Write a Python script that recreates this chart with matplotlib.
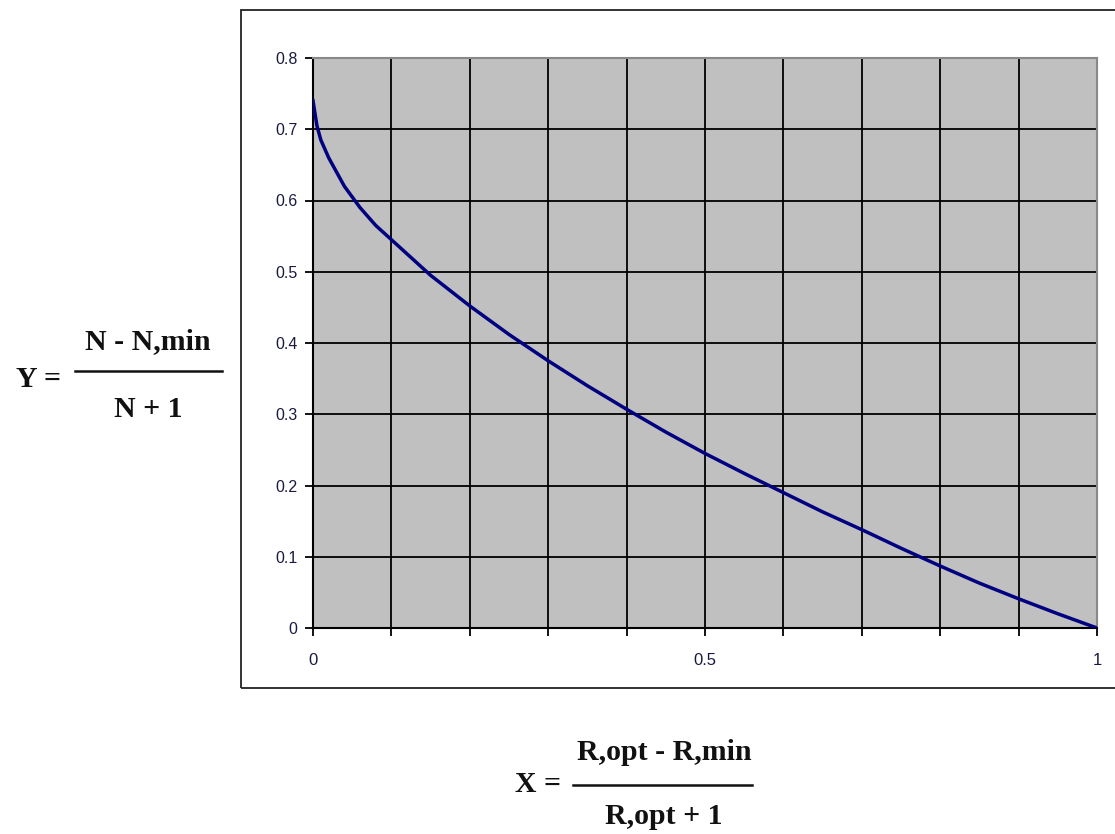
import matplotlib

matplotlib.use("Agg")
import matplotlib.pyplot as plt
from matplotlib.patches import Rectangle
from matplotlib.lines import Line2D

# Curva (correlação de Gilliland)
x_vals = [0.0, 0.005, 0.01, 0.02, 0.04, 0.06, 0.08, 0.1, 0.15, 0.2, 0.25, 0.3,
          0.35, 0.4, 0.45, 0.5, 0.55, 0.6, 0.65, 0.7, 0.75, 0.8, 0.85, 0.9,
          0.95, 1.0]
y_vals = [0.74, 0.705, 0.685, 0.66, 0.62, 0.59, 0.565, 0.545, 0.495, 0.452,
          0.412, 0.375, 0.34, 0.307, 0.275, 0.245, 0.217, 0.19, 0.163, 0.138,
          0.112, 0.087, 0.063, 0.041, 0.02, 0.0]

x_ticks = [i / 10 for i in range(11)]
x_labels = ["0", "", "", "", "", "0.5", "", "", "", "", "1"]
y_ticks = [i / 10 for i in range(9)]
y_labels = ["0", "0.1", "0.2", "0.3", "0.4", "0.5", "0.6", "0.7", "0.8"]

W, H = 1115, 834
fig = plt.figure(figsize=(W / 100, H / 100), dpi=100)

# moldura externa da área do gráfico
fig.patches.append(Rectangle((241 / W, 1 - 688 / H), 900 / W, 678 / H,
                             transform=fig.transFigure, fill=False,
                             edgecolor="#222222", linewidth=1.3, clip_on=False))

ax = fig.add_axes([313 / W, 1 - 628 / H, 784 / W, 570 / H])
ax.set_facecolor("#c0c0c0")
ax.plot(x_vals, y_vals, color="#000080", linewidth=2.5, zorder=3)
ax.set_xlim(0, 1)
ax.set_ylim(0, 0.8)
ax.set_xticks(x_ticks)
ax.set_xticklabels(x_labels)
ax.set_yticks(y_ticks)
ax.set_yticklabels(y_labels)
ax.grid(True, color="black", linewidth=1.3)
ax.set_axisbelow(True)
for s in ("top", "right"):
    ax.spines[s].set_color("#888888")
    ax.spines[s].set_linewidth(1.5)
for s in ("left", "bottom"):
    ax.spines[s].set_color("black")
    ax.spines[s].set_linewidth(1.5)
ax.tick_params(axis="x", length=6, width=1.3, pad=12, labelsize=12, colors="black",
               labelcolor="#1a1a40")
ax.tick_params(axis="y", length=6, width=1.3, pad=5, labelsize=11.5, colors="black",
               labelcolor="#1a1a40")
for lab in ax.get_xticklabels() + ax.get_yticklabels():
    lab.set_family(["Liberation Sans", "DejaVu Sans"])

# fórmulas dos eixos
serif = dict(family=["Liberation Serif", "DejaVu Serif"], weight="bold",
             fontsize=21.5, color="#111111")
fig.text(38 / W, 1 - 379 / H, "Y =", ha="center", va="center", **serif)
fig.text(148 / W, 1 - 342 / H, "N - N,min", ha="center", va="center", **serif)
fig.text(148 / W, 1 - 409 / H, "N + 1", ha="center", va="center", **serif)
fig.lines.append(Line2D([75 / W, 222 / W], [1 - 371 / H, 1 - 371 / H],
                        transform=fig.transFigure, color="#111111", linewidth=1.8))

fig.text(538 / W, 1 - 784 / H, "X =", ha="center", va="center", **serif)
fig.text(664 / W, 1 - 752 / H, "R,opt - R,min", ha="center", va="center", **serif)
fig.text(664 / W, 1 - 816 / H, "R,opt + 1", ha="center", va="center", **serif)
fig.lines.append(Line2D([573 / W, 752 / W], [1 - 785 / H, 1 - 785 / H],
                        transform=fig.transFigure, color="#111111", linewidth=1.8))

fig.savefig("out.png", dpi=100)
